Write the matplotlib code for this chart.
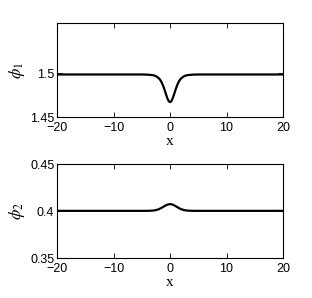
import numpy as np
import matplotlib.pyplot as plt

# values
x1 = [-20, -5, -4, -3, -2.5, -2, -1.75, -1.5, -1.25, -1, -0.75, -0.5, -0.25, 0,
      0.25, 0.5, 0.75, 1, 1.25, 1.5, 1.75, 2, 2.5, 3, 4, 5, 20]
phi1 = [1.4985, 1.4985, 1.4983, 1.4977, 1.4966, 1.4943, 1.4924, 1.4897, 1.4861, 1.4816,
        1.4767, 1.4719, 1.4683, 1.4670, 1.4683, 1.4719, 1.4767, 1.4816, 1.4861, 1.4897,
        1.4924, 1.4943, 1.4966, 1.4977, 1.4983, 1.4985, 1.4985]

x2 = [-20, -5, -4, -3, -2.5, -2, -1.5, -1, -0.5, 0, 0.5, 1, 1.5, 2, 2.5, 3, 4, 5, 20]
phi2 = [0.4003, 0.4003, 0.4003, 0.4006, 0.4011, 0.4020, 0.4035, 0.4053, 0.4069, 0.4075,
        0.4069, 0.4053, 0.4035, 0.4020, 0.4011, 0.4006, 0.4003, 0.4003, 0.4003]

xticks = [-20, -10, 0, 10, 20]

plt.rcParams['mathtext.fontset'] = 'stix'
plt.rcParams['font.family'] = ['Liberation Sans', 'DejaVu Sans']

fig = plt.figure(figsize=(3.12, 2.98), dpi=100)
ax1 = fig.add_axes([0.183, 0.607, 0.724, 0.315])
ax2 = fig.add_axes([0.183, 0.134, 0.724, 0.315])

def style(ax):
    ax.set_xlim(-20, 20)
    ax.set_xticks(xticks)
    ax.tick_params(direction='in', top=True, right=True, labelsize=9, length=3.5,
                   width=0.6)
    ax.tick_params(axis='x', pad=3.5)
    ax.tick_params(axis='y', pad=2)
    for s in ax.spines.values():
        s.set_linewidth(0.8)
    ax.set_xlabel('x', family='Liberation Serif', fontsize=11, labelpad=1)

ax1.plot(x1, phi1, color='black', lw=1.6)
ax1.set_ylim(1.45, 1.5568)
ax1.set_yticks([1.45, 1.5])
ax1.set_yticklabels(['1.45', '1.5'])
ax1.set_ylabel(r'$\phi_1$', fontsize=12, labelpad=2)
style(ax1)

ax2.plot(x2, phi2, color='black', lw=1.6)
ax2.set_ylim(0.35, 0.45)
ax2.set_yticks([0.35, 0.4, 0.45])
ax2.set_yticklabels(['0.35', '0.4', '0.45'])
ax2.set_ylabel(r'$\phi_2$', fontsize=12, labelpad=2)
style(ax2)

fig.savefig('out.png', dpi=100)
